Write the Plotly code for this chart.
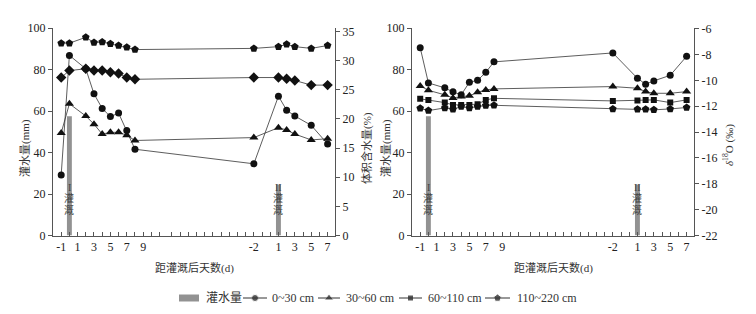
import plotly.graph_objects as go

# ---------------- data ----------------
seg1_days = [-1, 0, 2, 3, 4, 5, 6, 7, 8]
seg2_days = [-2, 1, 2, 3, 5, 7]
SEG2_OFFSET = 24.5           # position of the second irrigation period on the axis

seg1_tick_labels = [-1, 1, 3, 5, 7, 9]
seg2_tick_labels = [-2, 1, 3, 5, 7]
d18o_ticks = [-22, -20, -18, -16, -14, -12, -10, -8, -6]

irrig_labels = ["I", "II"]
irrig_seg = [1, 2]
irrig_day = [0, 1]
irrig_amount = [57.5, 24.5]          # 灌水量 (mm)

series_names = ["0~30 cm", "30~60 cm", "60~110 cm", "110~220 cm"]

# 体积含水量 (%)
sm_0_30 = [10.4, 30.9, 28.6, 24.3, 21.8, 20.4, 21.0, 18.0, 14.8,
           12.3, 23.9, 21.5, 20.5, 18.9, 15.7]
sm_30_60 = [17.6, 22.6, 20.5, 19.1, 17.4, 17.7, 17.7, 17.2, 16.3,
            16.8, 18.5, 18.1, 17.4, 16.4, 16.6]
sm_60_110 = [27.1, 28.3, 28.6, 28.3, 28.3, 28.0, 27.8, 27.1, 26.8,
             27.1, 27.1, 26.9, 26.6, 25.8, 25.8]
sm_110_220 = [33.0, 33.0, 34.0, 33.1, 33.2, 32.9, 32.6, 32.3, 31.9,
              32.1, 32.4, 32.8, 32.4, 32.1, 32.6]

# δ18O (‰)
d_0_30 = [-7.47, -10.20, -10.58, -10.89, -11.12, -10.15, -10.00, -9.38, -8.57,
          -7.88, -9.84, -10.30, -10.04, -9.61, -8.14]
d_30_60 = [-10.43, -10.77, -11.12, -11.36, -11.25, -11.20, -10.92, -10.74, -10.66,
           -10.48, -10.61, -10.87, -11.00, -11.00, -10.87]
d_60_110 = [-11.43, -11.51, -11.72, -11.90, -11.90, -11.90, -11.85, -11.51, -11.39,
            -11.59, -11.56, -11.51, -11.51, -11.72, -11.51]
d_110_220 = [-12.16, -12.34, -12.13, -12.24, -12.03, -12.13, -12.03, -11.95, -11.93,
             -12.21, -12.24, -12.24, -12.28, -12.21, -12.10]

# ---------------- helpers ----------------
def pos(seg, d):
    return d if seg == 1 else SEG2_OFFSET + d

xs = [pos(1, d) for d in seg1_days] + [pos(2, d) for d in seg2_days]
bar_x = [pos(s, d) for s, d in zip(irrig_seg, irrig_day)]

tickvals = list(range(-1, 12)) + [SEG2_OFFSET + k for k in range(-12, 8)]
labelled = {pos(1, d): str(d) for d in seg1_tick_labels}
labelled.update({pos(2, d): str(d) for d in seg2_tick_labels})
ticktext = [labelled.get(v, "") for v in tickvals]

FONT = "Liberation Serif, Noto Sans CJK SC, serif"
AX = "#555555"
LINE = "#333333"
BAR = "#929292"
TXT = "#333333"

W, H = 756, 314
def fx(px):
    return px / W
def fy(px):
    return 1 - px / H

fig = go.Figure()

markers_left = ["circle", "triangle-up", "diamond", "pentagon"]
markers_right = ["circle", "triangle-up", "square", "pentagon"]
sizes_left = [7, 8, 8, 8]
sizes_right = [7, 8, 6, 8]

# bars
for xa, ya in [("x", "y"), ("x2", "y3")]:
    fig.add_trace(go.Bar(x=bar_x, y=irrig_amount, width=0.6, marker_color=BAR,
                         marker_line_width=0, name="灌水量", showlegend=False,
                         xaxis=xa, yaxis=ya))

left_series = [sm_0_30, sm_30_60, sm_60_110, sm_110_220]
right_series = [d_0_30, d_30_60, d_60_110, d_110_220]

for i, (name, ys) in enumerate(zip(series_names, left_series)):
    fig.add_trace(go.Scatter(x=xs, y=ys, mode="lines+markers", name=name,
                             showlegend=False,
                             line=dict(color=LINE, width=0.8),
                             marker=dict(symbol=markers_left[i], size=sizes_left[i], color="#111111"),
                             xaxis="x", yaxis="y2"))
for i, (name, ys) in enumerate(zip(series_names, right_series)):
    fig.add_trace(go.Scatter(x=xs, y=ys, mode="lines+markers", name=name,
                             showlegend=False,
                             line=dict(color=LINE, width=0.8),
                             marker=dict(symbol=markers_right[i], size=sizes_right[i], color="#111111"),
                             xaxis="x2", yaxis="y4"))

# ---- manual legend (glyph layout in pixels) ----
LEG_Y = 298
leg_line_x0 = [243, 318, 399, 485]
leg_line_x1 = [267, 340, 422, 510]
leg_text_x = [270, 344, 426, 515]
shapes = [dict(type="rect", xref="paper", yref="paper",
               x0=fx(179), x1=fx(199), y0=fy(LEG_Y + 3.5), y1=fy(LEG_Y - 3.5),
               fillcolor=BAR, line_width=0)]
for a, b in zip(leg_line_x0, leg_line_x1):
    shapes.append(dict(type="line", xref="paper", yref="paper",
                       x0=fx(a), x1=fx(b), y0=fy(LEG_Y), y1=fy(LEG_Y),
                       line=dict(color=LINE, width=1)))
fig.add_trace(go.Scatter(x=[(a + b) / 2 for a, b in zip(leg_line_x0, leg_line_x1)],
                         y=[LEG_Y] * 4, mode="markers", showlegend=False,
                         hoverinfo="skip",
                         marker=dict(symbol=markers_right, size=sizes_right, color="#111111"),
                         xaxis="x3", yaxis="y5"))

xcommon = dict(range=[-2, 32.4], tickvals=tickvals, ticktext=ticktext,
               ticks="inside", ticklen=4, tickcolor=AX, showline=True,
               linecolor=AX, linewidth=1, showgrid=False, zeroline=False,
               automargin=False,
               tickfont=dict(size=12, color="#222", family=FONT))
ycommon = dict(showline=True, linecolor=AX, linewidth=1, showgrid=False,
               zeroline=False, ticks="outside", ticklen=4, tickcolor=AX,
               automargin=False,
               tickfont=dict(size=12, color="#222", family=FONT))

top, bot = 28, 235.5
ydom = [fy(bot), fy(top)]

fig.update_layout(
    width=W, height=H, margin=dict(l=0, r=0, t=0, b=0, autoexpand=False),
    paper_bgcolor="white", plot_bgcolor="rgba(0,0,0,0)",
    font=dict(family=FONT, size=12, color="#222"),
    barmode="overlay", showlegend=False,
    xaxis=dict(xcommon, domain=[fx(53), fx(335)], anchor="y"),
    xaxis2=dict(xcommon, domain=[fx(412), fx(694)], anchor="y3"),
    yaxis=dict(ycommon, domain=ydom, range=[0, 100], dtick=20, anchor="x"),
    yaxis2=dict(ycommon, domain=ydom, range=[0, 35.6], dtick=5, overlaying="y",
                side="right", anchor="x"),
    yaxis3=dict(ycommon, domain=ydom, range=[0, 100], dtick=20, anchor="x2"),
    yaxis4=dict(ycommon, domain=ydom, range=[-22, -5.95],
                tickvals=d18o_ticks, ticktext=[str(v) for v in d18o_ticks],
                overlaying="y3", side="right", anchor="x2"),
    xaxis3=dict(domain=[0, 1], range=[0, W], visible=False, fixedrange=True,
                anchor="y5", automargin=False),
    yaxis5=dict(domain=[0, 1], range=[H, 0], visible=False, fixedrange=True,
                anchor="x3", automargin=False),
    shapes=shapes,
)

ann = []
# bar labels (one character per line)
char_y = [22.9, 17.6, 12.3]
for lab, bx in zip(irrig_labels, bar_x):
    for xr, yr in [("x", "y"), ("x2", "y3")]:
        for ch, cy in zip([lab, "灌", "溉"], char_y):
            ann.append(dict(x=bx, y=cy, xref=xr, yref=yr, text=ch,
                            showarrow=False, font=dict(size=10, color="#444"),
                            xanchor="center", yanchor="middle"))
# legend texts
ann.append(dict(x=fx(204), y=fy(LEG_Y), xref="paper", yref="paper", text="灌水量",
                showarrow=False, xanchor="left", yanchor="middle",
                font=dict(size=12, color=TXT)))
for tx, name in zip(leg_text_x, series_names):
    ann.append(dict(x=fx(tx), y=fy(LEG_Y), xref="paper", yref="paper", text=name,
                    showarrow=False, xanchor="left", yanchor="middle",
                    font=dict(size=12, color=TXT)))
# axis titles
def title(xp, yp, text, angle=0):
    return dict(x=fx(xp), y=fy(yp), xref="paper", yref="paper", text=text,
                textangle=angle, showarrow=False, xanchor="center", yanchor="middle",
                font=dict(size=11, color=TXT))

ann += [
    title(25, 148, "灌水量(mm)", -90),
    title(367, 148, "体积含水量(%)", -90),
    title(386, 148, "灌水量(mm)", -90),
    title(728, 145, "<i>δ</i><sup>18</sup>O (‰)", -90),
    title(194, 268, "距灌溉后天数(d)"),
    title(553, 268, "距灌溉后天数(d)"),
]
fig.update_layout(annotations=ann)

fig.write_html("out.html", config={"displayModeBar": False},
               post_script="document.body.style.margin='0';document.body.style.padding='0';")
